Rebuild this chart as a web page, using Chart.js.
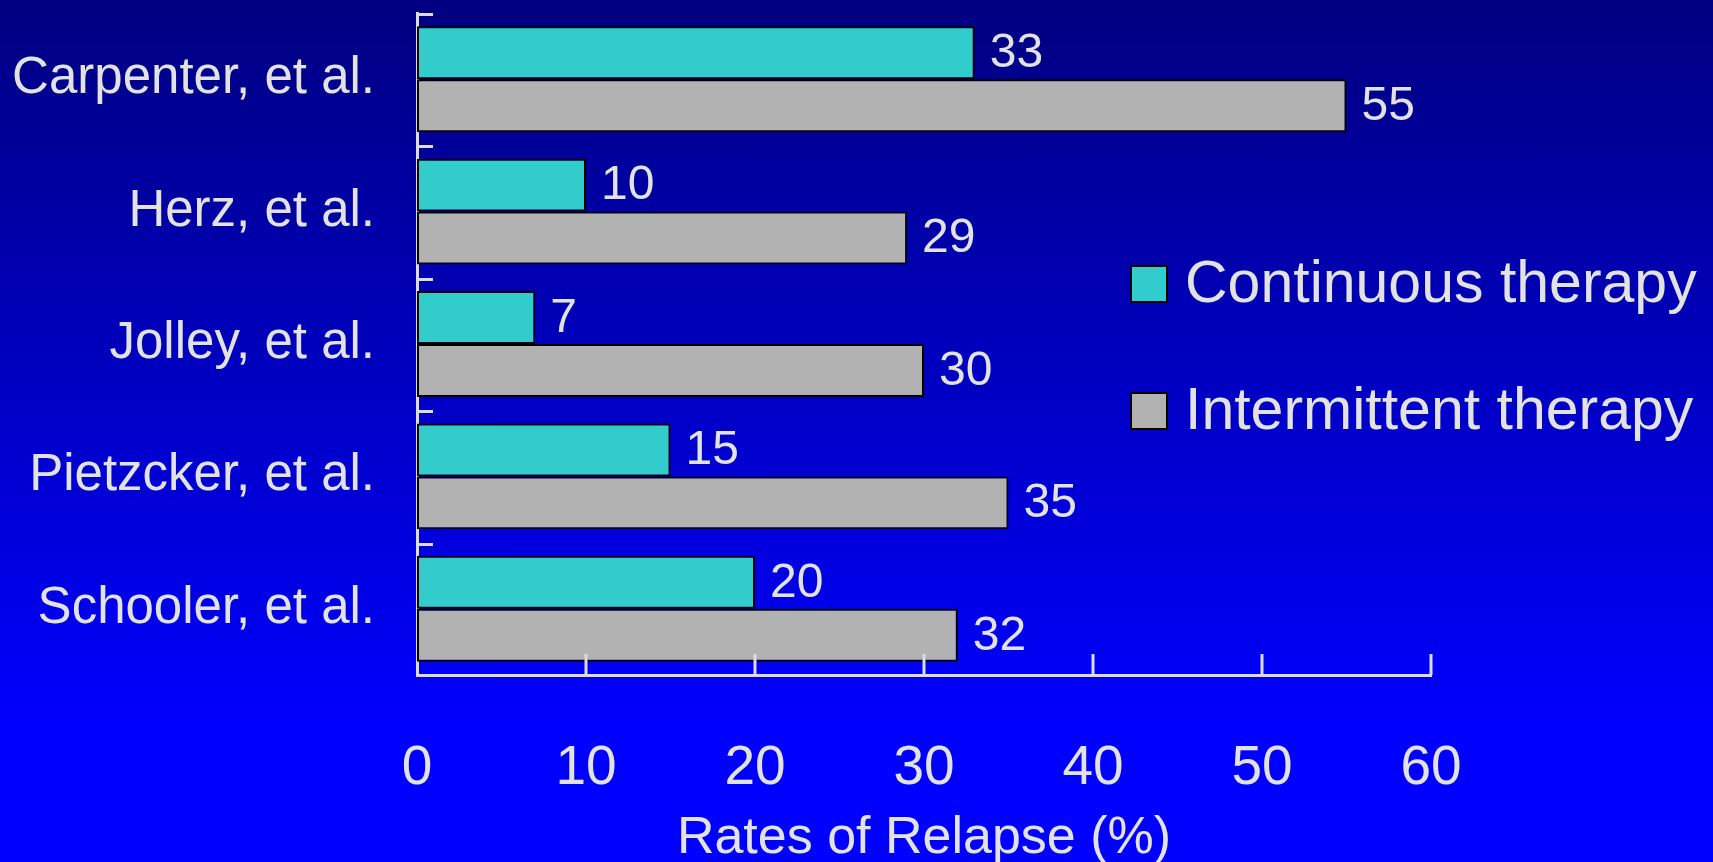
<!DOCTYPE html>
<html lang="en">
<head>
<meta charset="UTF-8">
<title>Rates of Relapse</title>
<script src="https://cdn.jsdelivr.net/npm/chart.js@4.4.7/dist/chart.umd.min.js"></script>
<style>
*{margin:0;padding:0;box-sizing:border-box}
html,body{width:1713px;height:862px;overflow:hidden}
.wrap{width:1713px;height:862px;background:linear-gradient(#000080 0%,#0000ff 85%)}
canvas{display:block}
</style>
</head>
<body>
<div class="wrap"><canvas id="relapse" width="1713" height="862"></canvas></div>
<script>
var STUDIES = ["Carpenter, et al.", "Herz, et al.", "Jolley, et al.", "Pietzcker, et al.", "Schooler, et al."];
var CONTINUOUS = [33, 10, 7, 15, 20];
var INTERMITTENT = [55, 29, 30, 35, 32];
var X_TICKS = [0, 10, 20, 30, 40, 50, 60];

var TEXT = "#e2e2e2";
var AXIS = "#dcdcdc";
var FONT = "'Liberation Sans', Arial, sans-serif";

// short tick marks pointing into the plot, like the old slide charts
var innerTicks = {
  id: "innerTicks",
  afterDraw: function (chart) {
    var ctx = chart.ctx, x = chart.scales.x, y = chart.scales.y, a = chart.chartArea;
    var band = y.getPixelForValue(1) - y.getPixelForValue(0);
    ctx.save();
    ctx.strokeStyle = AXIS;
    ctx.lineWidth = 3;
    ctx.beginPath();
    for (var i = 0; i < STUDIES.length; i++) {
      var ty = Math.round(y.getPixelForValue(i) - band / 2) + 1.5;
      ctx.moveTo(a.left, ty);
      ctx.lineTo(a.left + 16, ty);
    }
    for (var j = 1; j < X_TICKS.length; j++) {
      var tx = Math.round(x.getPixelForValue(X_TICKS[j]));
      ctx.moveTo(tx, a.bottom);
      ctx.lineTo(tx, a.bottom - 21);
    }
    ctx.stroke();
    ctx.restore();
  }
};

// value printed just past the end of each bar
var barValues = {
  id: "barValues",
  afterDatasetsDraw: function (chart) {
    var ctx = chart.ctx;
    ctx.save();
    ctx.fillStyle = TEXT;
    ctx.font = "48px " + FONT;
    ctx.textAlign = "left";
    ctx.textBaseline = "middle";
    chart.data.datasets.forEach(function (ds, di) {
      chart.getDatasetMeta(di).data.forEach(function (bar, i) {
        ctx.fillText(String(ds.data[i]), bar.x + 15, bar.y + 1);
      });
    });
    ctx.restore();
  }
};

// legend sits in the empty space on the right of the plot
var sideLegend = {
  id: "sideLegend",
  afterDraw: function (chart) {
    var ctx = chart.ctx;
    var rows = [284, 411];
    ctx.save();
    ctx.font = "59px " + FONT;
    ctx.textBaseline = "middle";
    chart.data.datasets.forEach(function (ds, i) {
      var cy = rows[i];
      ctx.fillStyle = ds.backgroundColor;
      ctx.fillRect(1131, cy - 18, 36, 36);
      ctx.strokeStyle = "#000";
      ctx.lineWidth = 2;
      ctx.strokeRect(1131, cy - 18, 36, 36);
      ctx.fillStyle = TEXT;
      ctx.fillText(ds.label, 1185, cy + 2);
    });
    ctx.restore();
  }
};

new Chart(document.getElementById("relapse"), {
  type: "bar",
  data: {
    labels: STUDIES,
    datasets: [
      { label: "Continuous therapy", data: CONTINUOUS, backgroundColor: "#33cccc", borderColor: "#000", borderWidth: 2, borderSkipped: false },
      { label: "Intermittent therapy", data: INTERMITTENT, backgroundColor: "#b2b2b2", borderColor: "#000", borderWidth: 2, borderSkipped: false }
    ]
  },
  options: {
    indexAxis: "y",
    responsive: false,
    devicePixelRatio: 1,
    animation: false,
    layout: { padding: { top: 13, right: 282, left: 0, bottom: 0 } },
    datasets: { bar: { categoryPercentage: 0.8, barPercentage: 1.0 } },
    plugins: { legend: { display: false }, tooltip: { enabled: false } },
    scales: {
      x: {
        z: 1,
        min: 0,
        max: 60,
        afterBuildTicks: function (s) { s.ticks = X_TICKS.map(function (v) { return { value: v }; }); },
        afterFit: function (s) { s.height = 187; s.paddingLeft = 0; },
        grid: { display: false, drawTicks: false },
        border: { display: true, color: AXIS, width: 3 },
        ticks: { color: TEXT, font: { family: FONT, size: 55 }, padding: 61, maxRotation: 0 },
        title: { display: true, text: "Rates of Relapse (%)", color: TEXT, font: { family: FONT, size: 52, lineHeight: 0.9 }, padding: { top: 0, bottom: 0 } }
      },
      y: {
        z: 1,
        afterFit: function (s) { s.width = 417; s.paddingTop = 0; s.paddingBottom = 0; },
        grid: { display: false, drawTicks: false },
        border: { display: true, color: AXIS, width: 3 },
        ticks: { color: TEXT, font: { family: FONT, size: 51 }, padding: 42 }
      }
    }
  },
  plugins: [barValues, innerTicks, sideLegend]
});
</script>
</body>
</html>
